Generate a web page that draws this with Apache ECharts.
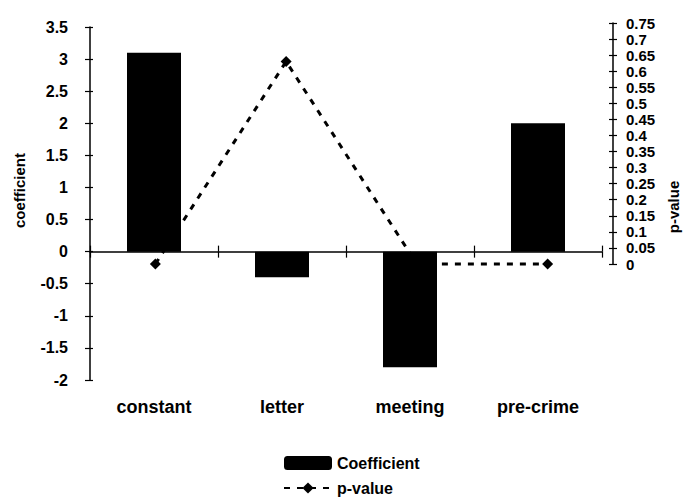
<!DOCTYPE html>
<html>
<head>
<meta charset="utf-8">
<script src="https://cdn.jsdelivr.net/npm/echarts@6/dist/echarts.min.js"></script>
<style>
html,body{margin:0;padding:0;background:#fff;}
#chart{width:689px;height:499px;}
</style>
</head>
<body>
<div id="chart"></div>
<script>
const categories = ['constant', 'letter', 'meeting', 'pre-crime'];
const coefficients = [3.1, -0.4, -1.8, 2.0];
const pValues = [0.0, 0.63, 0.0, 0.0];
const coefTicks = { min: -2, max: 3.5, interval: 0.5 };
const pTicks = { min: 0, max: 0.75, interval: 0.05 };

const FONT = 'Liberation Sans, Arial, sans-serif';
const chart = echarts.init(document.getElementById('chart'), null, { renderer: 'svg' });

const hiddenY = (grid, pos, scale) => ({
  type: 'value', gridIndex: grid, position: pos,
  min: scale.min, max: scale.max, interval: scale.interval,
  axisLine: { show: false }, axisTick: { show: false },
  axisLabel: { show: false }, splitLine: { show: false }
});

chart.setOption({
  backgroundColor: '#fff',
  animation: false,
  textStyle: { fontFamily: FONT, color: '#000' },
  grid: [
    { left: 90, right: 76, top: 27, bottom: 119 },
    { left: 90, right: 76, top: 23, bottom: 235 }
  ],
  legend: {
    orient: 'vertical', left: 283, top: 455, height: 100,
    itemWidth: 48, itemHeight: 14, itemGap: 9, padding: 0,
    textStyle: { fontFamily: FONT, fontSize: 16, fontWeight: 'bold', color: '#000' },
    data: ['Coefficient', 'p-value']
  },
  xAxis: [
    { type: 'category', gridIndex: 0, data: categories, position: 'bottom',
      axisLine: { show: false, onZero: false }, axisTick: { show: false },
      axisLabel: { fontFamily: FONT, fontSize: 18, fontWeight: 'bold', color: '#000', margin: 18 } },
    { type: 'category', gridIndex: 0, data: categories, position: 'top',
      axisLine: { show: true, onZero: true, lineStyle: { color: '#000', width: 1.5 } },
      axisTick: { show: true, length: 6, lineStyle: { color: '#000', width: 1.2 } },
      axisLabel: { show: false } },
    { type: 'category', gridIndex: 0, data: categories, position: 'bottom',
      axisLine: { show: false, onZero: true },
      axisTick: { show: true, length: 6, lineStyle: { color: '#000', width: 1.2 } },
      axisLabel: { show: false } },
    { type: 'category', gridIndex: 1, data: categories, show: false }
  ],
  yAxis: [
    { type: 'value', gridIndex: 0, position: 'left',
      min: coefTicks.min, max: coefTicks.max, interval: coefTicks.interval,
      name: 'coefficient', nameLocation: 'middle', nameGap: 63,
      nameTextStyle: { fontFamily: FONT, fontSize: 15, fontWeight: 'bold', color: '#000', padding: [0, 0, 0, 26] },
      axisLine: { show: true, lineStyle: { color: '#000', width: 1.5 } },
      axisTick: { show: true, length: 5, lineStyle: { color: '#000', width: 1.2 } },
      axisLabel: { fontFamily: FONT, fontSize: 16, fontWeight: 'bold', color: '#000', margin: 22 },
      splitLine: { show: false } },
    Object.assign(hiddenY(0, 'left', coefTicks), {
      axisTick: { show: true, inside: true, length: 3, lineStyle: { color: '#000', width: 1.2 } } }),
    Object.assign(hiddenY(0, 'right', coefTicks), {
      name: 'p-value', nameLocation: 'middle', nameGap: 64,
      nameTextStyle: { fontFamily: FONT, fontSize: 15, fontWeight: 'bold', color: '#000', padding: [0, 7, 0, 0] } }),
    { type: 'value', gridIndex: 1, position: 'right',
      min: pTicks.min, max: pTicks.max, interval: pTicks.interval,
      axisLine: { show: true, lineStyle: { color: '#000', width: 1.5 } },
      axisTick: { show: true, length: 4, lineStyle: { color: '#000', width: 1.2 } },
      axisLabel: { fontFamily: FONT, fontSize: 15, fontWeight: 'bold', color: '#000', margin: 13,
        formatter: v => String(+v.toFixed(2)) },
      splitLine: { show: false } },
    Object.assign(hiddenY(1, 'right', pTicks), {
      axisTick: { show: true, inside: true, length: 4, lineStyle: { color: '#000', width: 1.2 } } })
  ],
  series: [
    { name: 'Coefficient', type: 'bar', xAxisIndex: 0, yAxisIndex: 0,
      data: coefficients, barWidth: 54, itemStyle: { color: '#000' }, z: 5 },
    { name: 'p-value', type: 'line', xAxisIndex: 3, yAxisIndex: 3,
      data: pValues, clip: false, symbol: 'diamond', symbolSize: 11,
      lineStyle: { color: '#000', width: 3, type: [6, 7] },
      itemStyle: { color: '#000' }, z: 2 }
  ]
});
</script>
</body>
</html>
